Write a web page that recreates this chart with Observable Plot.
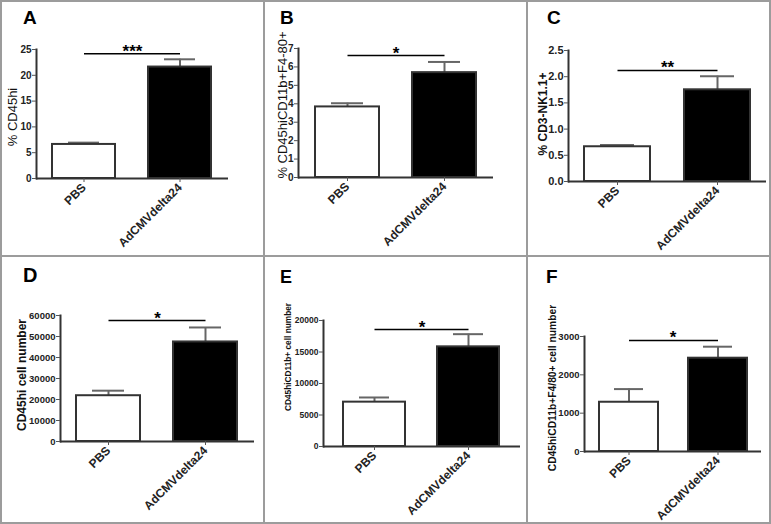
<!DOCTYPE html>
<html><head><meta charset="utf-8">
<script src="https://cdn.jsdelivr.net/npm/d3@7"></script>
<script src="https://cdn.jsdelivr.net/npm/@observablehq/plot@0.6"></script>
<style>
body{margin:0;background:#fff;}
#wrap{position:relative;width:771px;height:524px;background:#fff;overflow:hidden;font-family:Arial,"Liberation Sans",sans-serif;}
.panel{position:absolute;}
.panel svg{overflow:visible;}
.letter{position:absolute;font-weight:bold;line-height:1;color:#000;font-family:Arial,"Liberation Sans",sans-serif;}
.ylab{position:absolute;white-space:nowrap;line-height:1;color:#111;transform:translate(-50%,-50%) rotate(-90deg);font-family:Arial,"Liberation Sans",sans-serif;}
.bline{position:absolute;background:#9c9c9c;}
</style></head><body><div id="wrap"></div>
<script>
// ---- data ----
const groups = ["PBS", "AdCMVdelta24"];
const panelLetters = ["A", "B", "C", "D", "E", "F"];
const yLabels = ["% CD45hi", "% CD45hiCD11b+F4-80+", "% CD3-NK1.1+", "CD45hi cell number", "CD45hiCD11b+ cell number", "CD45hiCD11b+F4/80+ cell number"];
const meansA = [6.6, 21.6],      semA = [0.35, 1.5];
const meansB = [3.83, 5.69],     semB = [0.2, 0.58];
const meansC = [0.663, 1.75],    semC = [0.035, 0.26];
const meansD = [21800, 47400],   semD = [2400, 6900];
const meansE = [7040, 15820],    semE = [740, 2010];
const meansF = [1285, 2434],     semF = [343, 300];
const yMax = [25, 7, 2.5, 60000, 20000, 3000];
const yTicksA = [0, 5, 10, 15, 20, 25];
const yTicksB = [0, 1, 2, 3, 4, 5, 6, 7];
const yTicksC = [0, 0.5, 1.0, 1.5, 2.0, 2.5];
const yTicksD = [0, 10000, 20000, 30000, 40000, 50000, 60000];
const yTicksE = [0, 5000, 10000, 15000, 20000];
const yTicksF = [0, 1000, 2000, 3000];
const sigStars = ["***", "*", "**", "*", "*", "*"];
const sigLevel = [24.2, 6.62, 2.12, 57600, 18570, 2896];

const allMeans = [meansA, meansB, meansC, meansD, meansE, meansF];
const allSems = [semA, semB, semC, semD, semE, semF];
const allTicks = [yTicksA, yTicksB, yTicksC, yTicksD, yTicksE, yTicksF];

// ---- layout (positions & styles only; label positions are absolute page px) ----
const layout = [
  {left: 0,   top: 0,   w: 264, h: 256, ml: 36, mt: 49, mb: 78, mr: 36, po: 0.17, tickFont: 10,  labFont: 13,   labWeight: "normal", labX: 12,  labY: 117, cap: 16, letter: [23, 7.5, 19]},
  {left: 264, top: 0,   w: 263, h: 256, ml: 34, mt: 48, mb: 79, mr: 34, po: 0.17, tickFont: 10,  labFont: 13,   labWeight: "normal", labX: 282, labY: 105, cap: 16, letter: [280, 7.5, 19]},
  {left: 527, top: 0,   w: 244, h: 256, ml: 41, mt: 50, mb: 75, mr: 5,  po: 0.16, tickFont: 11,  labFont: 12,   labWeight: "bold",   labX: 543, labY: 114, cap: 16, letter: [547, 7.5, 19]},
  {left: 0,   top: 256, w: 264, h: 268, ml: 60, mt: 59, mb: 83, mr: 10, po: 0.17, tickFont: 9.5, labFont: 12,   labWeight: "bold",   labX: 22,  labY: 375, cap: 16, letter: [23, 265, 20]},
  {left: 264, top: 256, w: 263, h: 268, ml: 59, mt: 64, mb: 78, mr: 7,  po: 0.21, tickFont: 8.5, labFont: 8.3,  labWeight: "bold",   labX: 288, labY: 357, cap: 16, letter: [280, 268, 18]},
  {left: 527, top: 256, w: 244, h: 268, ml: 57, mt: 80, mb: 73, mr: 10, po: 0.16, tickFont: 9.5, labFont: 10.3, labWeight: "bold",   labX: 553, labY: 388, cap: 15, letter: [546, 267, 19]}
];

const wrap = document.getElementById("wrap");

layout.forEach((L, k) => {
  const rows = groups.map((g, i) => ({group: g, mean: allMeans[k][i], upper: allMeans[k][i] + allSems[k][i]}));
  const sig = [{y: sigLevel[k], stars: sigStars[k]}];
  const fmt = k === 2 ? d3.format(".1f") : d3.format("d");
  const chart = Plot.plot({
    width: L.w, height: L.h,
    marginLeft: L.ml, marginRight: L.mr, marginTop: L.mt, marginBottom: L.mb,
    style: {fontFamily: "Arial, 'Liberation Sans', sans-serif", background: "transparent", color: "#222", fontWeight: "bold"},
    x: {domain: groups, paddingInner: 0.34, paddingOuter: L.po, label: null},
    y: {domain: [0, yMax[k]], label: null},
    color: {domain: groups, range: ["#ffffff", "#000000"]},
    marks: [
      Plot.ruleX(rows, {x: "group", y1: "mean", y2: "upper", stroke: "#666", strokeWidth: 2}),
      Plot.tickY(rows, {x: "group", y: "upper", stroke: "#666", strokeWidth: 2, insetLeft: L.cap, insetRight: L.cap}),
      Plot.barY(rows, {x: "group", y: "mean", fill: "group", stroke: "#333", strokeWidth: 2}),
      Plot.ruleY([0], {stroke: "#333", strokeWidth: 2}),
      Plot.frame({anchor: "left", stroke: "#333", strokeWidth: 2}),
      Plot.axisY({ticks: allTicks[k], tickFormat: fmt, tickSize: 4, tickPadding: 1, fontSize: L.tickFont, stroke: "#555", label: null}),
      Plot.axisX({tickSize: 4, tickRotate: -45, fontSize: 12, stroke: "#555", label: null, tickPadding: 3}),
      Plot.link(sig, {x1: () => groups[0], x2: () => groups[1], y1: "y", y2: "y", stroke: "#000", strokeWidth: 1.5}),
      Plot.text(sig, {y: "y", text: "stars", fontSize: 17, fontWeight: "bold", fill: "#000", lineAnchor: "bottom", dy: 3})
    ]
  });
  const div = document.createElement("div");
  div.className = "panel";
  div.style.left = L.left + "px";
  div.style.top = L.top + "px";
  div.appendChild(chart);
  wrap.appendChild(div);

  const yl = document.createElement("div");
  yl.className = "ylab";
  yl.textContent = yLabels[k];
  yl.style.left = L.labX + "px";
  yl.style.top = L.labY + "px";
  yl.style.fontSize = L.labFont + "px";
  yl.style.fontWeight = L.labWeight;
  wrap.appendChild(yl);

  const lt = document.createElement("div");
  lt.className = "letter";
  lt.textContent = panelLetters[k];
  lt.style.left = L.letter[0] + "px";
  lt.style.top = L.letter[1] + "px";
  lt.style.fontSize = L.letter[2] + "px";
  wrap.appendChild(lt);
});

// panel borders
const borders = [
  [0, 0, 771, 2], [0, 522, 771, 2], [0, 0, 2, 524], [769, 0, 2, 524],
  [0, 255, 771, 2], [263, 0, 2, 524], [526, 0, 2, 524]
];
borders.forEach(([x, y, w, h]) => {
  const b = document.createElement("div");
  b.className = "bline";
  Object.assign(b.style, {left: x + "px", top: y + "px", width: w + "px", height: h + "px"});
  wrap.appendChild(b);
});
</script></body></html>
